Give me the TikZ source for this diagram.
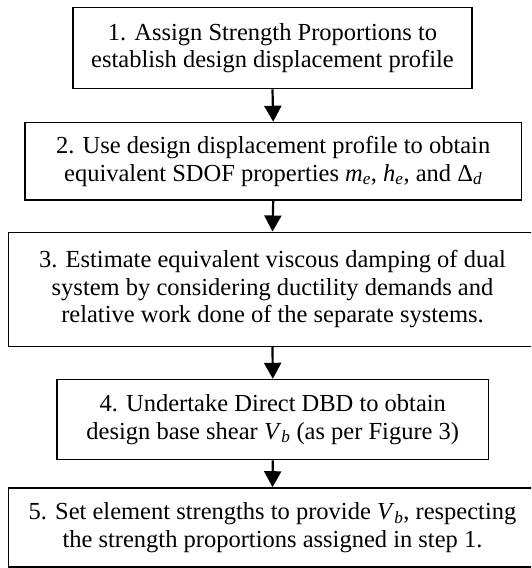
\documentclass[tikz,border=0pt]{standalone}
\usepackage{fontspec}
\setmainfont{Liberation Serif}
\usetikzlibrary{arrows.meta}
\begin{document}
\begin{tikzpicture}[x=1pt,y=-1pt,
  stepbox/.style={draw=black, line width=1.6pt, rectangle, inner sep=0pt, align=center,
    font=\fontsize{24.5}{27.5}\selectfont},
  arr/.style={line width=2.2pt, -{Triangle[width=17pt,length=16pt]}}]
\clip (0,0) rectangle (531,568);
\node[stepbox, minimum width=399pt, minimum height=81pt] (b1) at (272.5,48)
  {1. Assign Strength Proportions to\\establish design displacement profile};
\node[stepbox, minimum width=496.5pt, minimum height=77.5pt] (b2) at (273.2,161.3)
  {2. Use design displacement profile to obtain\\equivalent SDOF properties \textit{m}\textsubscript{\textit{e}}, \textit{h}\textsubscript{\textit{e}}, and Δ\textsubscript{\textit{d}}};
\node[stepbox, minimum width=528pt, minimum height=114pt] (b3) at (272.5,289.3)
  {3. Estimate equivalent viscous damping of dual\\system by considering ductility demands and\\relative work done of the separate systems.};
\node[stepbox, minimum width=431.6pt, minimum height=80pt] (b4) at (272.8,419.6)
  {4. Undertake Direct DBD to obtain\\design base shear \textit{V}\textsubscript{\textit{b}} (as per Figure 3)};
\node[stepbox, minimum width=528pt, minimum height=79pt] (b5) at (272.5,527.5)
  {5. Set element strengths to provide \textit{V}\textsubscript{\textit{b}}, respecting\\the strength proportions assigned in step 1.};
\draw[arr] (b1.south) -- (b2.north);
\draw[arr] (b2.south) -- (b3.north);
\draw[arr] (b3.south) -- (b4.north);
\draw[arr] (b4.south) -- (b5.north);
\end{tikzpicture}
\end{document}
